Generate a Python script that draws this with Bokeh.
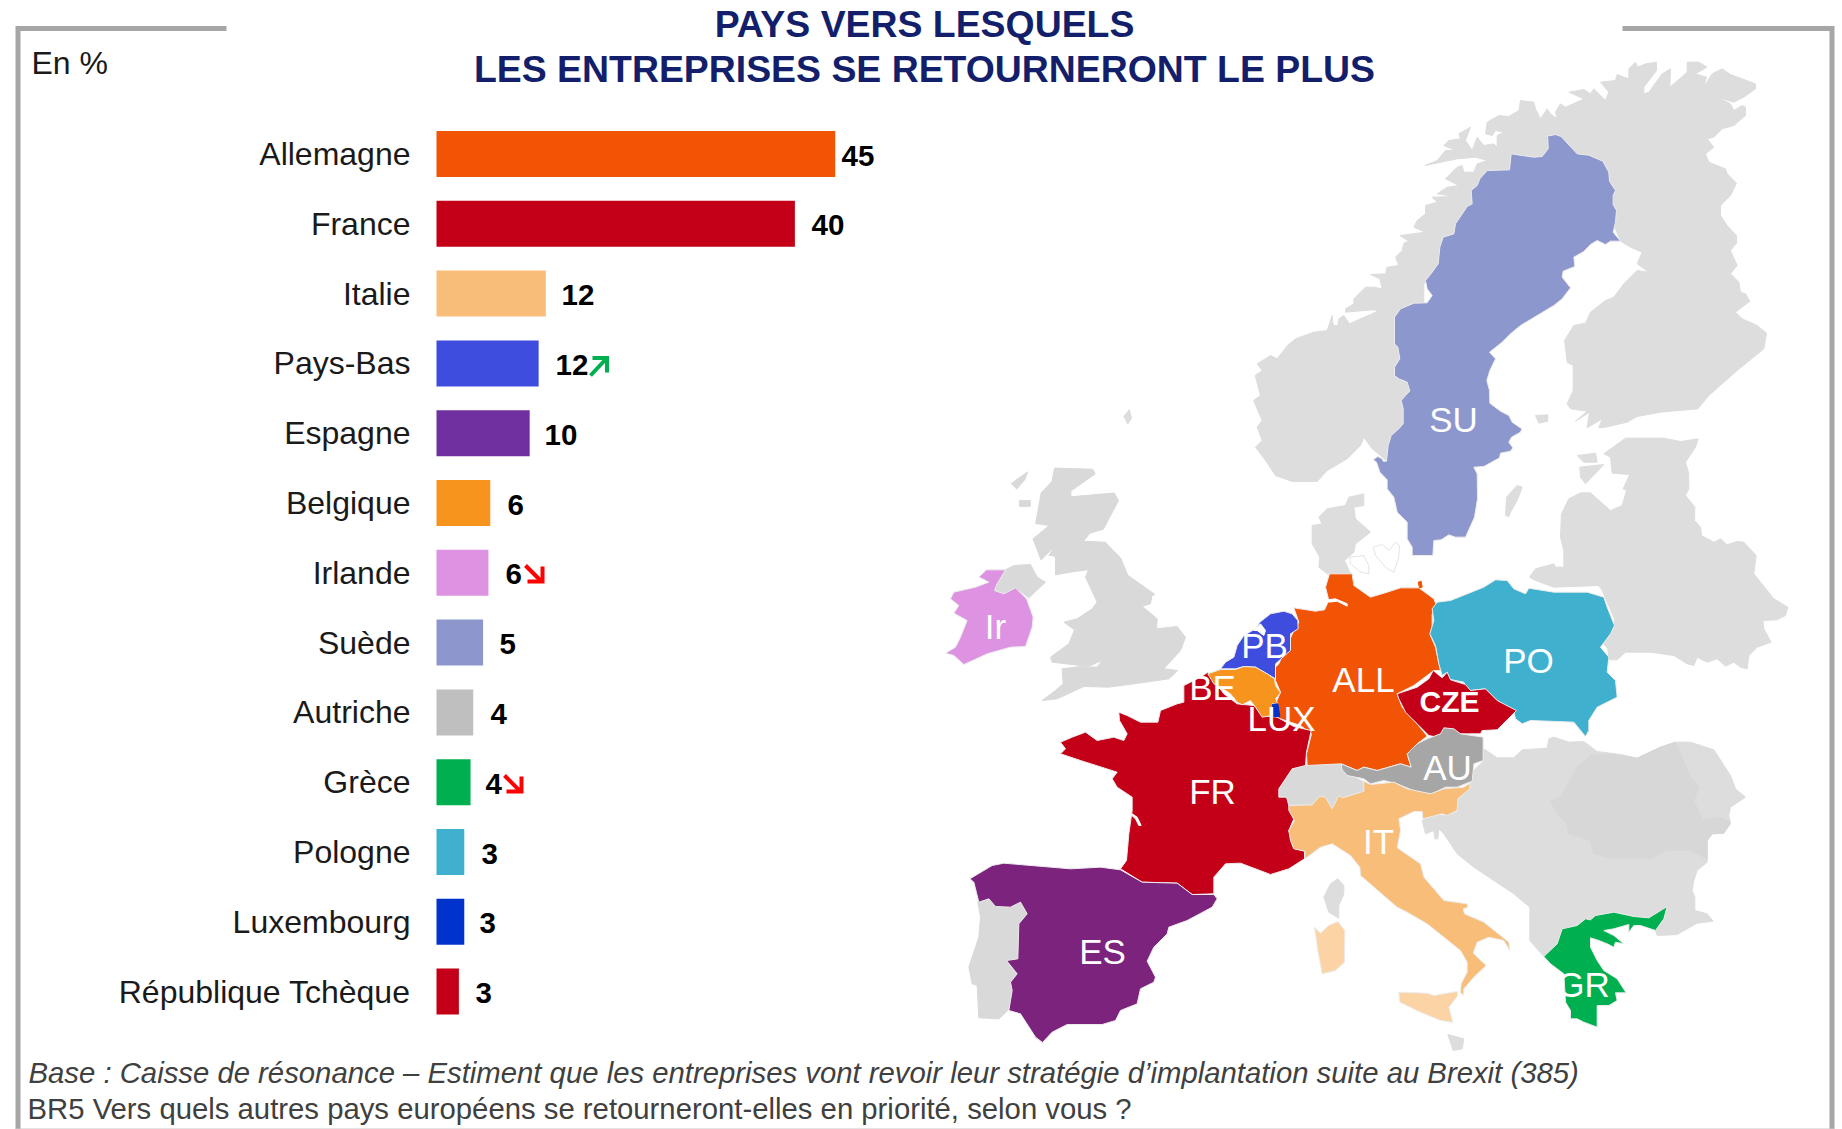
from bokeh.plotting import figure
from bokeh.embed import file_html
from bokeh.resources import INLINE
from bokeh.core.properties import value
from bokeh.models import Range1d, LinearAxis, FixedTicker

# ---------- chart data ----------
categories = ["Allemagne", "France", "Italie", "Pays-Bas", "Espagne", "Belgique", "Irlande",
              "Suède", "Autriche", "Grèce", "Pologne", "Luxembourg", "République Tchèque"]
bar_values = [44.5, 40.0, 12.2, 11.4, 10.4, 6.0, 5.8, 5.2, 4.1, 3.8, 3.1, 3.1, 2.5]
bar_labels = ["45", "40", "12", "12", "10", "6", "6", "5", "4", "4", "3", "3", "3"]
bar_colors = ["#F25406", "#C40018", "#F9BD7A", "#3E4DDD", "#70309F", "#F7941E", "#DD92E2",
              "#8D97CE", "#BFBFBF", "#00B050", "#3FB1CE", "#0033CC", "#C40018"]
label_left_px = [841, 811, 561, 555, 544, 507, 505, 499, 490, 485, 481, 479, 475]

# ---------- map outlines, traced per sheet (origin x, origin y, scale x, scale y) ----------
SHEETS = {"Z1": (920, 540, 3, 3), "N": (1290, 50, 3, 3), "S": (1220, 400, 3, 3), "E": (1500, 400, 3, 3),
          "C": (1200, 570, 3, 3), "I": (1260, 760, 3, 3), "B": (1400, 680, 3, 3), "W": (1000, 60, 1.847, 2.613)}

nordic = [(15,865),(70,845),(110,840),(125,795),(128,825),(142,825),(145,805),(160,795),(177,820),(210,805),(245,790),(265,780),(245,778),(165,785),(165,775),(190,760),(190,745),(225,710),(250,710),(275,715),(268,685),(240,672),(285,670),(290,650),(325,645),(315,620),(335,600),(340,578),(355,572),(328,555),(405,545),(370,530),(380,510),(405,490),(405,465),(440,455),(425,440),(495,438),(440,430),(470,410),(505,405),(465,385),(500,350),(515,345),(520,365),(550,365),(560,340),(590,330),(555,320),(500,325),(403,345),(440,330),(465,300),(495,300),(460,285),(475,270),(510,265),(505,250),(540,230),(525,270),(545,300),(560,260),(580,285),(610,280),(620,290),(620,255),(640,245),(615,240),(605,255),(585,250),(590,215),(625,195),(655,198),(685,180),(690,150),(730,155),(735,175),(750,205),(770,175),(780,190),(800,205),(795,185),(810,160),(825,170),(870,150),(880,145),(835,125),(880,117),(900,130),(910,115),(945,150),(955,125),(930,95),(975,90),(980,72),(1000,80),(1015,85),(1015,55),(1035,35),(1042,50),(1065,40),(1098,35),(1098,60),(1060,110),(1060,130),(1075,125),(1115,70),(1140,55),(1138,110),(1190,65),(1190,35),(1225,35),(1250,50),(1215,70),(1248,80),(1240,110),(1265,70),(1295,55),(1320,72),(1395,100),(1395,115),(1360,140),(1330,155),(1280,140),(1320,160),(1330,180),(1355,165),(1365,170),(1365,195),(1330,225),(1295,235),(1270,260),(1250,265),(1270,290),(1245,310),(1255,335),(1305,355),(1310,370),(1338,398),(1320,435),(1290,465),(1290,495),(1310,525),(1338,555),(1338,578),(1320,600),(1340,645),(1320,670),(1345,695),(1350,725),(1365,730),(1378,752),(1335,785),(1355,805),(1400,825),(1428,848),(1420,895),(1340,960),(1255,1035),(1222,1075),(1110,1085),(1040,1098),(1010,1115),(945,1130),(925,1132),(935,1105),(890,1132),(897,1085),(855,1112),(890,1082),(840,1075),(830,1060),(848,1020),(848,945),(830,935),(822,870),(850,825),(885,818),(900,785),(945,750),(970,740),(1000,700),(1040,660),(1075,665),(1040,640),(1055,605),(1020,590),(990,572),(960,500),(700,450),(400,700),(400,1000),(400,1150),(290,1232),(245,1195),(220,1160),(210,1185),(170,1225),(110,1260),(80,1293),(5,1293),(-45,1275),(-75,1230),(-105,1190),(-85,1170),(-100,1130),(-85,1110),(-111,1050),(-90,1035),(-106,975),(-85,960),(-100,940),(-60,915),(-40,925),(-9,885)]
sweden = [(770,257),(795,252),(812,258),(860,310),(895,314),(937,332),(955,365),(957,392),(975,420),(968,435),(968,462),(978,480),(975,515),(968,545),(990,572),(960,572),(945,582),(920,570),(900,582),(880,603),(850,620),(853,648),(818,662),(815,680),(840,712),(815,745),(790,765),(740,795),(690,825),(660,850),(635,875),(597,905),(615,925),(598,960),(589,990),(597,1020),(598,1058),(630,1082),(655,1095),(665,1115),(694,1135),(690,1145),(663,1160),(655,1175),(667,1192),(660,1202),(630,1208),(627,1222),(580,1248),(550,1250),(560,1270),(561,1345),(552,1400),(525,1460),(495,1460),(475,1453),(452,1468),(430,1470),(427,1515),(365,1515),(365,1490),(350,1465),(350,1415),(320,1385),(310,1340),(290,1315),(290,1288),(268,1265),(258,1235),(248,1228),(262,1218),(275,1225),(278,1232),(288,1232),(293,1185),(302,1155),(325,1135),(338,1120),(338,1075),(332,1050),(345,1035),(358,1022),(350,995),(325,985),(312,975),(312,950),(328,925),(322,890),(312,880),(312,800),(330,775),(370,758),(410,757),(425,735),(410,715),(405,690),(420,672),(443,640),(448,590),(458,560),(490,550),(495,520),(530,468),(545,460),(542,420),(560,405),(568,385),(590,360),(657,358),(662,310),(695,315),(730,320),(755,318),(773,295),(772,265)]
faroe = [(238,912),(242,935),(235,950),(228,930)]
gotland = [(680,1305),(695,1310),(680,1350),(660,1385),(655,1398),(645,1395),(648,1340)]
aland = [(735,1095),(772,1093),(772,1112),(745,1118)]
saare = [(860,1215),(915,1208),(920,1235),(880,1235)]
riga = [(868,1250),(940,1242),(885,1300),(870,1280)]
east = [(310,160),(375,113),(490,113),(540,123),(593,115),(585,140),(555,185),(565,220),(565,265),(555,285),(583,320),(582,360),(600,380),(603,405),(640,425),(660,415),(680,433),(710,423),(730,425),(767,465),(760,520),(820,595),(862,620),(855,645),(830,658),(787,660),(790,685),(812,725),(770,740),(745,765),(740,805),(720,800),(700,785),(675,797),(650,775),(620,785),(590,770),(580,795),(560,790),(520,765),(450,755),(375,755),(350,778),(325,778),(322,745),(305,725),(342,680),(342,655),(305,570),(295,555),(160,560),(105,540),(87,530),(105,505),(160,490),(165,500),(190,500),(190,450),(180,410),(183,340),(205,295),(240,277),(270,277),(330,330),(365,315),(378,270),(368,265),(388,222),(335,218),(330,170)]
balkans = [(250,205),(290,232),(340,232),(365,208),(440,203),(445,175),(460,170),(505,185),(550,183),(590,213),(660,222),(710,233),(780,200),(825,185),(870,185),(940,208),(990,285),(1005,325),(1035,350),(990,380),(985,405),(990,430),(970,458),(935,460),(920,480),(920,545),(890,570),(880,600),(875,630),(883,650),(883,690),(920,700),(938,722),(890,728),(830,762),(770,765),(765,750),(790,715),(800,678),(750,710),(700,708),(640,695),(585,705),(570,718),(555,715),(530,735),(485,745),(470,790),(430,828),(388,780),(388,680),(340,640),(280,600),(220,560),(170,520),(130,460),(115,445),(112,475),(103,475),(100,450),(75,460),(65,420),(100,405),(135,405),(170,395),(170,350),(210,310),(220,270),(250,240)]
romania = [(450,360),(480,350),(530,260),(570,225),(640,222),(710,233),(780,200),(825,185),(870,290),(895,320),(880,360),(905,418),(960,412),(990,425),(970,458),(935,460),(920,480),(920,535),(870,510),(800,510),(750,535),(640,535),(580,520),(570,480),(505,460),(500,430),(470,400)]
greece = [(430,828),(470,790),(485,745),(530,735),(555,715),(570,718),(585,705),(640,695),(700,708),(745,712),(800,678),(790,715),(765,750),(720,735),(700,735),(685,755),(685,732),(640,745),(610,750),(640,765),(670,790),(645,785),(640,800),(620,790),(595,780),(570,772),(570,800),(590,840),(610,870),(650,895),(677,937),(645,937),(650,960),(625,975),(590,975),(590,1040),(550,1025),(530,1015),(510,1015),(510,990),(495,965),(490,880),(450,850)]
italy = [(85,135),(155,133),(178,107),(195,110),(215,145),(235,105),(245,112),(295,97),(310,92),(310,62),(330,72),(400,65),(440,85),(510,100),(550,85),(610,80),(628,68),(628,85),(592,115),(590,150),(560,165),(545,160),(487,175),(485,153),(460,153),(415,175),(420,210),(410,262),(480,310),(490,350),(550,420),(620,430),(622,440),(608,445),(612,460),(670,485),(745,545),(748,570),(730,540),(685,530),(650,545),(638,578),(677,615),(640,650),(610,685),(608,705),(600,695),(602,670),(620,635),(620,605),(600,570),(500,490),(440,455),(410,440),(300,345),(298,320),(270,285),(215,250),(180,260),(133,295),(133,272),(100,265),(90,240),(85,210),(102,180),(85,150)]
sardinia = [(162,500),(180,518),(205,495),(232,483),(253,510),(252,605),(225,630),(185,640),(172,570)]
sicily = [(415,695),(500,698),(520,705),(590,693),(592,705),(565,740),(577,785),(540,780),(480,755),(418,725)]
corsica = [(190,410),(210,370),(232,355),(250,375),(250,400),(235,435),(235,473),(205,455)]
malta = [(562,822),(610,835),(605,865),(578,870)]
swiss = [(1075,745),(1115,685),(1155,675),(1260,665),(1265,690),(1330,725),(1330,755),(1305,765),(1260,775),(1245,805),(1225,800),(1210,770),(1185,790),(1108,795),(1098,770),(1075,770)]
austria = [(422,580),(470,600),(490,590),(530,600),(600,580),(632,590),(620,550),(650,520),(680,505),(720,490),(730,472),(760,475),(780,490),(848,500),(848,570),(820,580),(815,632),(770,650),(735,650),(695,670),(650,665),(590,640),(550,630),(510,640),(490,625),(440,615),(425,598)]
germany = [(280,112),(345,122),(372,118),(385,90),(375,50),(387,10),(455,10),(460,45),(510,80),(560,65),(600,52),(655,52),(700,85),(712,115),(695,130),(695,170),(690,195),(705,230),(720,300),(700,300),(640,345),(590,370),(605,410),(650,460),(680,497),(650,520),(620,550),(632,590),(600,580),(530,600),(490,590),(470,600),(422,580),(320,585),(318,550),(333,490),(300,465),(225,440),(205,440),(225,400),(240,365),(225,330),(225,290),(235,280),(280,180),(295,155)]
kiel = [(380,88),(405,85),(440,100),(440,107),(410,92),(385,95)]
rugen = [(653,35),(662,32),(665,50),(657,52)]
netherlands = [(178,155),(210,130),(250,122),(275,130),(292,150),(293,175),(270,190),(270,240),(225,280),(225,325),(200,310),(165,290),(130,288),(105,295),(60,295),(75,275),(100,260),(110,225),(130,195),(165,175)]
ijssel = [(160,180),(180,160),(195,180),(190,195),(170,180)]
belgium = [(22,310),(60,297),(105,297),(130,288),(165,290),(200,310),(222,325),(225,345),(240,367),(225,385),(232,400),(215,400),(215,435),(185,440),(165,410),(150,390),(125,403),(110,395),(90,370),(60,350),(40,340)]
luxembourg = [(215,402),(232,400),(238,438),(218,438)]
france = [(790,435),(790,485),(770,490),(720,510),(712,545),(660,545),(620,525),(595,515),(597,540),(620,580),(610,600),(580,590),(530,600),(495,575),(455,590),(420,605),(435,625),(420,640),(480,660),(590,695),(575,715),(590,740),(635,770),(635,810),(625,880),(618,960),(600,985),(665,1025),(770,1028),(815,1062),(880,1060),(880,1010),(915,970),(960,968),(1050,1002),(1105,985),(1152,955),(1152,932),(1118,920),(1105,870),(1120,835),(1105,795),(1098,770),(1075,770),(1075,745),(1115,685),(1155,675),(1158,635),(1172,570),(1120,558),(1070,530),(1030,525),(1000,495),(950,490),(910,460),(862,395),(840,410)]
arcachon = [(635,820),(650,830),(662,855),(655,855),(645,835),(635,826)]
spain = [(148,1015),(215,975),(250,968),(450,985),(540,980),(600,988),(665,1025),(770,1028),(815,1062),(880,1062),(890,1075),(875,1100),(800,1140),(745,1160),(740,1180),(700,1220),(680,1262),(705,1310),(700,1325),(660,1345),(650,1390),(600,1410),(585,1440),(545,1452),(440,1452),(395,1475),(366,1506),(345,1490),(300,1420),(265,1410),(275,1350),(270,1325),(290,1300),(258,1260),(292,1255),(295,1150),(320,1120),(300,1085),(270,1100),(225,1098),(205,1075),(175,1085),(160,1025)]
portugal = [(172,1085),(205,1075),(225,1098),(270,1100),(300,1085),(320,1120),(295,1150),(292,1255),(258,1260),(290,1300),(270,1325),(275,1350),(262,1410),(235,1435),(175,1432),(170,1335),(155,1330),(145,1280),(175,1190),(180,1130)]
ireland = [(175,110),(198,88),(255,88),(230,130),(222,150),(250,160),(285,142),(318,175),(338,230),(335,260),(315,318),(270,320),(200,340),(130,372),(100,345),(75,338),(105,320),(120,290),(140,240),(100,218),(115,195),(90,175),(100,155),(165,140),(205,125),(180,112)]
ulster = [(255,88),(280,75),(330,72),(350,110),(375,125),(325,172),(285,142),(250,160),(222,150),(230,130)]
england = [(410,0),(555,5),(600,60),(625,120),(695,160),(690,190),(665,197),(710,235),(708,265),(770,258),(795,290),(780,330),(730,385),(772,390),(745,415),(640,430),(565,440),(490,438),(410,475),(365,480),(405,450),(428,430),(425,385),(480,378),(530,380),(545,360),(510,375),(480,375),(395,365),(390,350),(445,310),(462,268),(430,245),(470,235),(515,205),(530,185),(495,110),(505,85),(405,103),(405,50),(395,45),(385,45),(395,30)]
scotland = [(100,1065),(170,1068),(175,1080),(130,1125),(130,1140),(210,1130),(218,1150),(190,1225),(165,1235),(150,1262),(195,1262),(222,1300),(235,1345),(285,1395),(250,1420),(180,1420),(165,1330),(105,1340),(100,1270),(75,1305),(60,1250),(90,1215),(65,1210),(75,1130),(95,1100)]
lewis = [(20,1105),(50,1075),(45,1095),(30,1120)]
skye = [(35,1150),(55,1150),(55,1165),(35,1165)]
denmark = [(275,375),(305,370),(295,350),(320,325),(375,315),(385,290),(430,280),(430,315),(400,320),(405,355),(450,395),(405,430),(400,455),(372,480),(390,520),(320,520),(295,500),(298,470),(275,430)]
funen = [(388,470),(430,465),(445,495),(445,520),(420,515),(390,490)]
zealand = [(458,440),(485,432),(505,450),(525,425),(537,435),(535,470),(520,515),(500,505),(465,465)]
poland = [(650,605),(690,600),(790,560),(825,538),(860,540),(880,565),(915,580),(925,563),(1000,575),(1100,575),(1150,590),(1160,620),(1182,675),(1170,700),(1140,740),(1165,770),(1160,815),(1185,840),(1190,890),(1130,920),(1105,960),(1105,990),(1095,1008),(1060,965),(930,960),(905,970),(885,955),(880,935),(830,900),(795,865),(750,870),(735,860),(730,845),(680,835),(680,815),(665,825),(655,790),(645,735),(628,700),(640,660),(635,625)]
czechia = [(530,880),(590,860),(625,835),(638,810),(665,832),(680,815),(690,838),(735,852),(750,870),(795,865),(830,900),(888,930),(830,988),(785,990),(780,1000),(710,1000),(690,985),(670,990),(650,1010),(625,1005),(590,970),(555,935),(535,895)]

NORD, BRIT = "#DDDDDD", "#D9D9D9"
EDGE = "#ECECEC"
layers = [
    ("N", nordic, NORD, None), ("W", faroe, NORD, None), ("N", gotland, NORD, None), ("N", aland, NORD, None),
    ("N", saare, NORD, None), ("N", riga, NORD, None), ("E", east, NORD, None),
    ("B", balkans, NORD, None), ("B", romania, "#D7D7D7", None), ("I", corsica, NORD, None), ("I", malta, NORD, None),
    ("W", scotland, BRIT, None), ("W", lewis, BRIT, None), ("W", skye, BRIT, None), ("Z1", england, BRIT, None),
    ("Z1", ulster, BRIT, None), ("Z1", swiss, BRIT, None), ("Z1", portugal, BRIT, None), ("S", denmark, NORD, None),
    ("S", funen, "#FFFFFF", "#E4E4E4"), ("S", zealand, "#FFFFFF", "#E4E4E4"),
    ("N", sweden, "#8C97CE", EDGE), ("Z1", ireland, "#DD92E2", EDGE), ("C", germany, "#F25406", EDGE),
    ("C", rugen, "#F25406", None), ("C", kiel, "#FFFFFF", None),
    ("C", netherlands, "#3E4DDD", EDGE), ("C", ijssel, "#FFFFFF", None), ("Z1", france, "#C40018", EDGE),
    ("Z1", arcachon, "#FFFFFF", None), ("C", belgium, "#F7941E", EDGE), ("C", luxembourg, "#0033CC", None),
    ("Z1", spain, "#7C237D", EDGE), ("S", poland, "#3FB1CE", EDGE), ("S", czechia, "#C40018", EDGE),
    ("C", austria, "#A6A6A6", EDGE), ("I", italy, "#F9BD7A", EDGE), ("I", sardinia, "#FBD3A5", EDGE),
    ("I", sicily, "#FBD3A5", EDGE), ("B", greece, "#00B050", EDGE),
]

# ---------- page ----------
W, H = 1842, 1129
LEFT, TOP = 0, 0
BAR_ZERO, PX_PER_UNIT = 436.0, 8.96
ROW_ZERO, ROW_STEP = 153.5, 69.8
FONT = value("Liberation Sans")

p = figure(width=W, height=H, x_range=Range1d(LEFT, LEFT + W), y_range=Range1d(TOP + H, TOP),
           x_axis_type=None, y_axis_type=None, toolbar_location=None, output_backend="svg",
           min_border=0, outline_line_color=None, background_fill_color="#FFFFFF")
p.grid.visible = False
p.extra_x_ranges["v"] = Range1d((LEFT - BAR_ZERO) / PX_PER_UNIT, (LEFT + W - BAR_ZERO) / PX_PER_UNIT)
p.extra_y_ranges["rows"] = Range1d((TOP + H - ROW_ZERO) / ROW_STEP, (TOP - ROW_ZERO) / ROW_STEP)

# frame
FRAME = "#A6A6A6"
p.multi_line(xs=[[226, 17.5, 17.5], [1622, 1831.5, 1831.5]], ys=[[28, 28, TOP + H], [28, 28, TOP + H]],
             line_color=FRAME, line_width=5, line_join="miter")
p.line([15, 1834], [1128.5, 1128.5], line_color="#C8C8C8", line_width=1)

# map
for sheet, pts, color, edge in layers:
    ox, oy, kx, ky = SHEETS[sheet]
    p.patch([ox + a / kx for a, _ in pts], [oy + b / ky for _, b in pts], fill_color=color,
            line_color=edge if edge else color, line_width=1)

# bars
rows = list(range(len(categories)))
p.hbar(y=rows, left=0, right=bar_values, height=46 / ROW_STEP, fill_color=bar_colors, line_color=None,
       x_range_name="v", y_range_name="rows")

axis = LinearAxis(x_range_name="v", y_range_name="rows", fixed_location=0, ticker=FixedTicker(ticks=rows),
                  major_label_overrides={i: c for i, c in zip(rows, categories)},
                  major_label_text_font="Liberation Sans", major_label_text_font_size="32px",
                  major_label_text_color="#1A1A1A", major_label_standoff=20, axis_line_color=None,
                  major_tick_line_color=None, minor_tick_line_color=None)
p.add_layout(axis, "left")


def label(x, y, txt, size, color="#000000", style="normal", align="left"):
    p.text(x=[x], y=[y], text=[txt], text_font=FONT, text_font_size=value(f"{size}px"),
           text_font_style=style, text_color=color, text_align=align, text_baseline="middle")


# values
for i, t in enumerate(bar_labels):
    label(label_left_px[i], ROW_ZERO + i * ROW_STEP + 1.5, t, 29.5, style="bold")

# trend arrows
for xs, ys, c in [([590, 606], [375, 358], "#00B050"), ([592, 606.5, 606.5], [357.5, 357.5, 372], "#00B050"),
                  ([525, 541], [565, 581], "#FF0000"), ([527, 542, 542], [581, 581, 566], "#FF0000"),
                  ([504, 520], [775, 791], "#FF0000"), ([506, 521, 521], [791, 791, 776], "#FF0000")]:
    p.line(xs, ys, line_color=c, line_width=4, line_join="miter")

# titles and notes
TITLE = "#141F6B"
label(924, 23, "PAYS VERS LESQUELS", 37.4, TITLE, "bold", "center")
label(924, 68, "LES ENTREPRISES SE RETOURNERONT LE PLUS", 37.4, TITLE, "bold", "center")
label(31, 62, "En %", 32, "#1A1A1A")
label(28, 1072, "Base : Caisse de résonance – Estiment que les entreprises vont revoir leur stratégie d’implantation suite au Brexit (385)",
      29.3, "#404040", "italic")
label(27, 1108, "BR5 Vers quels autres pays européens se retourneront-elles en priorité, selon vous ?", 29.3, "#404040")

# map labels
for x, y, t in [(1212, 791, "FR"), (1102, 951, "ES"), (995, 626, "Ir"), (1212, 687, "BE"), (1281, 718, "LUX"),
                (1264, 645, "PB"), (1363, 679, "ALL"), (1528, 660, "PO"), (1447, 767, "AU"),
                (1378, 841, "IT"), (1453, 419, "SU"), (1583, 984, "GR")]:
    label(x, y, t, 35, "#FFFFFF", "normal", "center")
label(1449, 701, "CZE", 30, "#FFFFFF", "bold", "center")

open("out.html", "w").write(file_html(p, INLINE))
